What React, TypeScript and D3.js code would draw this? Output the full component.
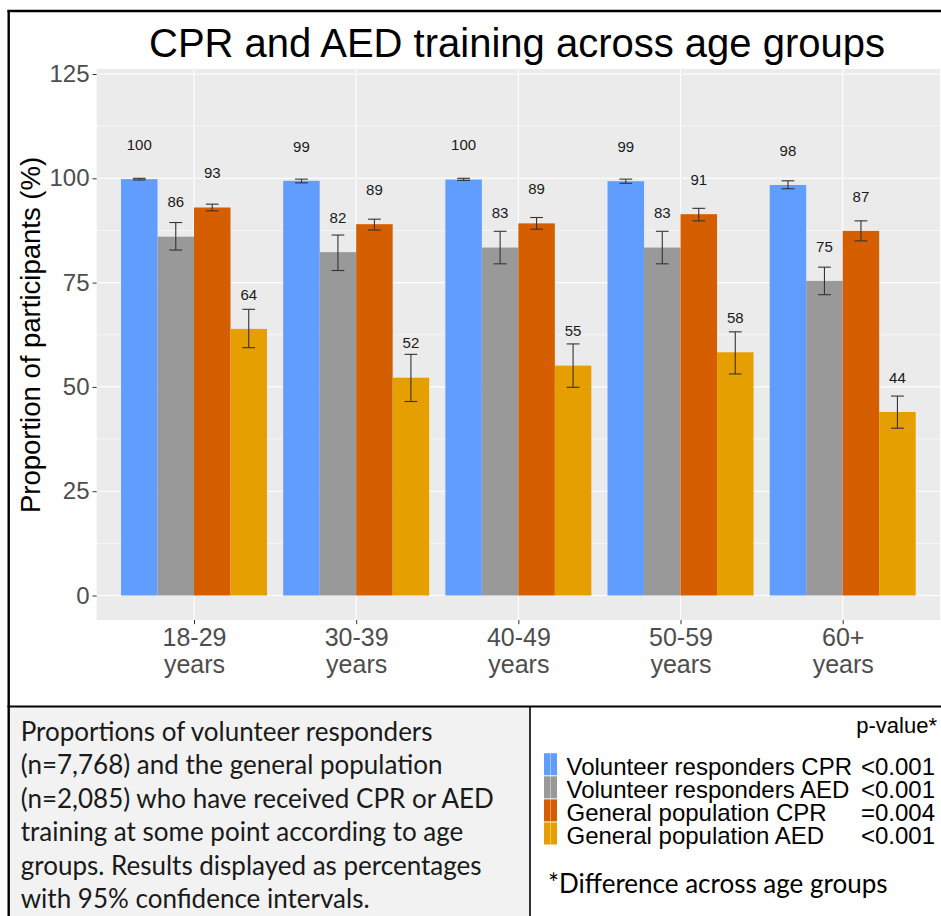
import { useEffect, useRef } from 'react';
import * as d3 from 'd3';

// age groups on the x axis
const ageGroups = ['18-29', '30-39', '40-49', '50-59', '60+'];

// series (legend order)
const seriesNames = [
  'Volunteer responders CPR',
  'Volunteer responders AED',
  'General population CPR',
  'General population AED',
];
const seriesColors = ['#619CFF', '#999999', '#D55E00', '#E69F00'];
const pValues = ['<0.001', '<0.001', '=0.004', '<0.001'];

// proportions (%) and 95% CI, one array per series, in age group order
const vrCpr = [99.8, 99.4, 99.7, 99.3, 98.4];
const vrCprLow = [99.6, 98.9, 99.5, 98.8, 97.5];
const vrCprHigh = [100, 99.8, 100, 99.8, 99.4];

const vrAed = [86.0, 82.3, 83.4, 83.4, 75.4];
const vrAedLow = [82.8, 77.9, 79.5, 79.5, 72.1];
const vrAedHigh = [89.4, 86.4, 87.3, 87.3, 78.7];

const gpCpr = [93.0, 89.0, 89.2, 91.4, 87.4];
const gpCprLow = [92.2, 87.6, 87.8, 89.8, 85.0];
const gpCprHigh = [93.8, 90.2, 90.6, 92.8, 89.8];

const gpAed = [63.9, 52.2, 55.1, 58.3, 44.0];
const gpAedLow = [59.4, 46.5, 49.9, 53.1, 40.1];
const gpAedHigh = [68.6, 57.8, 60.3, 63.2, 47.8];

const yTicks = [0, 25, 50, 75, 100, 125];
const yMinor = [12.5, 37.5, 62.5, 87.5, 112.5];

const captionLines = [
  'Proportions of volunteer responders',
  '(n=7,768) and the general population',
  '(n=2,085) who have received CPR or AED',
  'training at some point according to age',
  'groups. Results displayed as percentages',
  'with 95% confidence intervals.',
];

const values = [vrCpr, vrAed, gpCpr, gpAed];
const lows = [vrCprLow, vrAedLow, gpCprLow, gpAedLow];
const highs = [vrCprHigh, vrAedHigh, gpCprHigh, gpAedHigh];

const arial = 'Arial, "Liberation Sans", sans-serif';
const calibri = 'Lato, "Open Sans", sans-serif';

export default function App() {
  const width = 941;
  const height = 916;
  const panelLeft = 96.7;
  const panelRight = 940;
  const panelTop = 69;
  const panelBottom = 620;

  const x = d3.scalePoint().domain(ageGroups).range([panelLeft, panelRight]).padding(0.6);
  const groupWidth = x.step() * 0.9;
  const xs = d3.scaleBand().domain(seriesNames).range([-groupWidth / 2, groupWidth / 2]);
  const barWidth = xs.bandwidth();
  const y = d3.scaleLinear().domain([0, 125]).range([595.5, 74]);

  const legendY = d3.scaleBand().domain(seriesNames).range([752.7, 845]);

  const gx = useRef(null);
  const gy = useRef(null);

  useEffect(() => {
    const g = d3.select(gy.current);
    g.call(d3.axisLeft(y).tickValues(yTicks).tickSize(4.2).tickPadding(3));
    g.select('.domain').remove();
    g.selectAll('.tick line').attr('stroke', '#333333').attr('stroke-width', 1);
    g.selectAll('.tick text')
      .attr('fill', '#4D4D4D')
      .style('font-size', '24px')
      .style('font-family', arial);
  }, [gy, y]);

  useEffect(() => {
    const g = d3.select(gx.current);
    g.call(d3.axisBottom(x).tickSize(4.2));
    g.select('.domain').remove();
    g.selectAll('.tick line').attr('stroke', '#333333').attr('stroke-width', 1);
    g.selectAll('.tick text')
      .attr('fill', '#4D4D4D')
      .attr('y', 0)
      .attr('dy', null)
      .style('font-size', '25px')
      .style('font-family', arial)
      .each(function (d) {
        const t = d3.select(this);
        t.text('');
        t.append('tspan').attr('x', 0).attr('y', 25.5).text(d as string);
        t.append('tspan').attr('x', 0).attr('y', 53).text('years');
      });
  }, [gx, x]);

  return (
    <svg
      width={width}
      height={height}
      style={{ position: 'absolute', left: 0, top: 0, background: '#fff' }}
    >
      {/* caption box background */}
      <rect x={9} y={707} width={521} height={height - 707} fill="#F2F2F2" />

      {/* title */}
      <text x={517} y={56.5} textAnchor="middle" fontFamily={arial} fontSize={40} fill="#000">
        CPR and AED training across age groups
      </text>

      {/* panel */}
      <rect x={panelLeft} y={panelTop} width={panelRight - panelLeft} height={panelBottom - panelTop} fill="#EBEBEB" />
      {yMinor.map(v => (
        <line key={'mi' + v} x1={panelLeft} x2={panelRight} y1={y(v)} y2={y(v)} stroke="#fff" strokeWidth={0.6} />
      ))}
      {yTicks.map(v => (
        <line key={'ma' + v} x1={panelLeft} x2={panelRight} y1={y(v)} y2={y(v)} stroke="#fff" strokeWidth={1.1} />
      ))}
      {ageGroups.map(a => (
        <line key={'vx' + a} x1={x(a)} x2={x(a)} y1={panelTop} y2={panelBottom} stroke="#fff" strokeWidth={1.1} />
      ))}

      {/* bars */}
      {seriesNames.map((s, si) => (
        <g key={s} fill={seriesColors[si]}>
          {ageGroups.map((a, i) => (
            <rect
              key={a}
              x={(x(a) as number) + (xs(s) as number)}
              y={y(values[si][i])}
              width={barWidth}
              height={y(0) - y(values[si][i])}
            />
          ))}
        </g>
      ))}

      {/* error bars */}
      {seriesNames.map((s, si) => (
        <g key={'e' + s} stroke="#333333" strokeWidth={1.1} fill="none">
          {ageGroups.map((a, i) => {
            const cx = (x(a) as number) + (xs(s) as number) + barWidth / 2;
            const w = barWidth * 0.35;
            return (
              <g key={a}>
                <line x1={cx} x2={cx} y1={y(lows[si][i])} y2={y(highs[si][i])} />
                <line x1={cx - w / 2} x2={cx + w / 2} y1={y(lows[si][i])} y2={y(lows[si][i])} />
                <line x1={cx - w / 2} x2={cx + w / 2} y1={y(highs[si][i])} y2={y(highs[si][i])} />
              </g>
            );
          })}
        </g>
      ))}

      {/* value labels */}
      {seriesNames.map((s, si) => (
        <g key={'l' + s}>
          {ageGroups.map((a, i) => (
            <text
              key={a}
              x={(x(a) as number) + (xs(s) as number) + barWidth / 2}
              y={y(values[si][i] + 8.3)}
              dy="0.36em"
              textAnchor="middle"
              fontFamily={arial}
              fontSize={15}
              fill="#1a1a1a"
            >
              {Math.round(values[si][i])}
            </text>
          ))}
        </g>
      ))}

      <g ref={gy} transform={`translate(${panelLeft},0)`}></g>
      <g ref={gx} transform={`translate(0,${panelBottom})`}></g>

      <text
        transform={`translate(40,335) rotate(-90)`}
        textAnchor="middle"
        fontFamily={arial}
        fontSize={27.5}
        fill="#000"
      >
        Proportion of participants (%)
      </text>

      {/* caption */}
      {captionLines.map((t, i) => (
        <text key={i} x={20.7} y={741 + i * 33.4} fontFamily={calibri} fontSize={26} fill="#1a1a1a">
          {t}
        </text>
      ))}

      {/* legend */}
      <text x={937} y={733} textAnchor="end" fontFamily={arial} fontSize={22} fill="#000">
        p-value*
      </text>
      {seriesNames.map((s, si) => {
        const ty = (legendY(s) as number) + legendY.bandwidth() / 2;
        return (
          <g key={'lg' + s}>
            <rect x={544} y={(legendY(s) as number) + 0.5} width={13} height={legendY.bandwidth() - 1} fill={seriesColors[si]} />
            <line x1={550.5} x2={550.5} y1={(legendY(s) as number) + 0.5} y2={(legendY(s) as number) + legendY.bandwidth() - 0.5} stroke="#fff" strokeOpacity={0.4} strokeWidth={1} />
            <text x={566.5} y={ty + 2} dy="0.36em" fontFamily={arial} fontSize={24} fill="#000">
              {s}
            </text>
            <text x={935} y={ty + 2} dy="0.36em" textAnchor="end" fontFamily={arial} fontSize={24} fill="#000">
              {pValues[si]}
            </text>
          </g>
        );
      })}
      <text x={548} y={893} fontFamily={calibri} fontSize={26} fill="#000">
        *Difference across age groups
      </text>

      {/* frame lines */}
      <g stroke="#000" fill="none">
        <line x1={7.5} x2={width} y1={11} y2={11} strokeWidth={2.4} />
        <line x1={8.7} x2={8.7} y1={10} y2={height} strokeWidth={2.4} />
        <line x1={7.5} x2={width} y1={706.5} y2={706.5} strokeWidth={2} />
        <line x1={530} x2={530} y1={706} y2={height} strokeWidth={1.6} />
      </g>
    </svg>
  );
}
